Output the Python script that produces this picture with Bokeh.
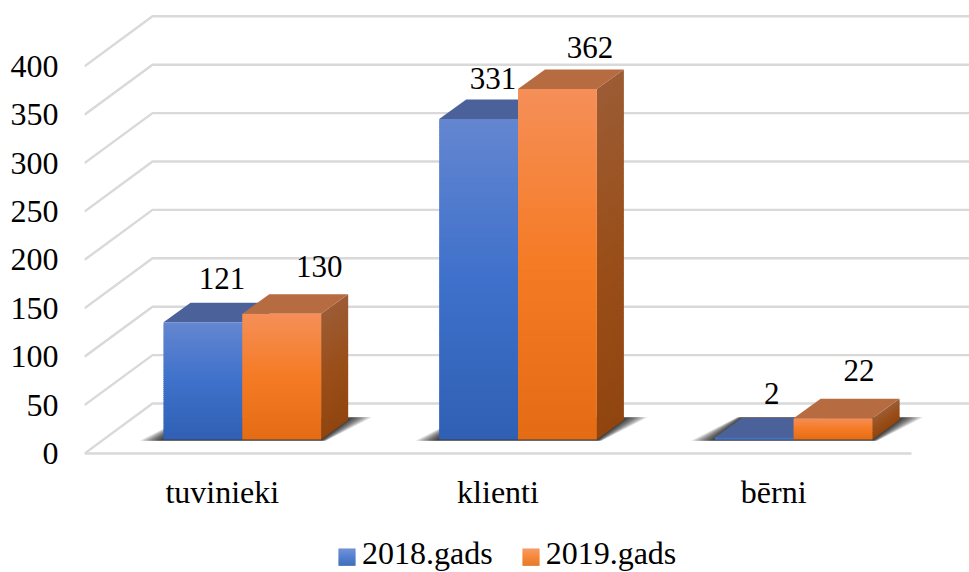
from bokeh.plotting import figure
from bokeh.models import (Range1d, FixedTicker, LinearAxis, Legend, LegendItem)
from bokeh.core.properties import value
from bokeh.embed import file_html
from bokeh.resources import INLINE

# ---- data ----
categories = ["tuvinieki", "klienti", "bērni"]
series_names = ["2018.gads", "2019.gads"]
values_2018 = [121, 331, 2]
values_2019 = [130, 362, 22]
y_ticks = [0, 50, 100, 150, 200, 250, 300, 350, 400]

# ---- styles: gradient stops (top, middle, bottom) ----
front_blue = ["#6486d0", "#3f71cb", "#2f60b4"]
front_orange = ["#f58f58", "#f57b25", "#e46c14"]
side_blue = ["#3c5a94", "#2f5290", "#254680"]
side_orange = ["#9c5c35", "#9a4f1a", "#91450f"]
top_blue = "#4a6299"
top_orange = "#b66b41"
grid_color = "#d9d9d9"
FONT = "Liberation Serif"
FONT_SIZE = "32px"

# ---- layout in pixels of the canvas ----
W, H = 969, 572
LEFT = 84            # plot frame left
STEP_PX = 275.67     # width of a category on the front plane
PX_PER_UNIT = 0.968  # pixels for one value unit
ZERO_PX = 453        # canvas y of value 0 on the front plane

sx = 1 / STEP_PX
sy = 1 / PX_PER_UNIT

GRID_DX, GRID_DY = 68 * sx, 50 * sy     # wall depth
BAR_DX, BAR_DY = 27 * sx, 19.5 * sy     # bar depth
BAR_W = 78.8 * sx
BAR_OFF_X = 20 * sx                     # bars stand inside the floor
BAR_OFF_Y = 14 * sy

p = figure(width=W, height=H, output_backend="svg", toolbar_location=None,
           x_range=Range1d(0, (W - LEFT) * sx),
           y_range=Range1d((ZERO_PX - H) * sy, ZERO_PX * sy),
           min_border_left=LEFT, min_border_right=0, min_border_top=0,
           min_border_bottom=0, frame_height=H, frame_width=W - LEFT,
           outline_line_color=None, background_fill_color="white",
           x_axis_type=None, y_axis_type=None)
p.grid.visible = False


def mix(stops, t):
    """Colour at t (0 top, 1 bottom) of a three-stop gradient."""
    if t < 0.5:
        a, b, u = stops[0], stops[1], t * 2
    else:
        a, b, u = stops[1], stops[2], (t - 0.5) * 2
    ca = [int(a[i:i + 2], 16) for i in (1, 3, 5)]
    cb = [int(b[i:i + 2], 16) for i in (1, 3, 5)]
    return "#%02x%02x%02x" % tuple(round(x + (y - x) * u) for x, y in zip(ca, cb))


# ---- walls ----
right_edge = (W - LEFT) * sx
for t in y_ticks:
    p.line([0, GRID_DX, right_edge], [t, t + GRID_DY, t + GRID_DY],
           line_color=grid_color, line_width=2.4)
p.line([0, len(categories)], [0, 0], line_color=grid_color, line_width=2.4)

# ---- floor shadows: nested translucent shapes give a soft edge ----
SHADOW_LAYERS = 17
for i in range(len(categories)):
    x0 = i + 0.5 + BAR_OFF_X - BAR_W
    x1 = i + 0.5 + BAR_OFF_X + BAR_W
    for k in range(SHADOW_LAYERS):
        e = 1.5 * (SHADOW_LAYERS - 1 - k)
        ex = e * sx
        ey = min(e, 6) * 0.45 * sy
        base = BAR_OFF_Y
        p.patch([x0 - ex, x1 + ex * 0.2, x1 + BAR_DX + ex, x0 + BAR_DX - ex * 0.2],
                [base - ey * 0.5, base - ey * 0.5, base + BAR_DY + ey, base + BAR_DY + ey],
                fill_color="black", fill_alpha=0.08, line_color=None)


def draw_bar(x0, val, front, side, top):
    x1 = x0 + BAR_W
    y0 = BAR_OFF_Y
    y1 = BAR_OFF_Y + val
    n = max(2, int(val * PX_PER_UNIT / 2))
    dy = (y1 - y0) / n
    over = 1 * sy
    rows = [(y1 - j * dy, max(y0, y1 - (j + 1) * dy - over), (j + 0.5) / n) for j in range(n)]
    # side face
    p.patches([[x1, x1 + BAR_DX, x1 + BAR_DX, x1] for _ in rows],
              [[a, a + BAR_DY, b + BAR_DY, b] for a, b, _ in rows],
              fill_color=[mix(side, t) for *_, t in rows], line_color=None)
    # top face
    p.patch([x0, x1, x1 + BAR_DX, x0 + BAR_DX], [y1, y1, y1 + BAR_DY, y1 + BAR_DY],
            fill_color=top, line_color=None)
    # front face
    p.quad(left=x0, right=x1, top=[a for a, *_ in rows], bottom=[b for _, b, _ in rows],
           fill_color=[mix(front, t) for *_, t in rows], line_color=None)


for i in range(len(categories)):
    draw_bar(i + 0.5 + BAR_OFF_X - BAR_W, values_2018[i], front_blue, side_blue, top_blue)
    draw_bar(i + 0.5 + BAR_OFF_X, values_2019[i], front_orange, side_orange, top_orange)

# ---- data labels (offset from bar centre in pixels, as read) ----
label_dx_2018 = [19, 14.5, 17.5]
label_dy_2018 = [44, 41, 44]
label_dx_2019 = [37.5, 32.5, 26]
label_dy_2019 = [47, 42, 48]
lx, ly, lt = [], [], []
for i in range(len(categories)):
    lx.append(i + 0.5 + BAR_OFF_X - BAR_W / 2 + label_dx_2018[i] * sx)
    ly.append(BAR_OFF_Y + values_2018[i] + label_dy_2018[i] * sy)
    lt.append(str(values_2018[i]))
    lx.append(i + 0.5 + BAR_OFF_X + BAR_W / 2 + label_dx_2019[i] * sx)
    ly.append(BAR_OFF_Y + values_2019[i] + label_dy_2019[i] * sy)
    lt.append(str(values_2019[i]))
p.text(lx, ly, text=lt, text_font=value(FONT), text_font_size=value("31px"),
       text_color="#000000", text_align="center", text_baseline="middle")

# ---- axes ----
yaxis = LinearAxis(ticker=FixedTicker(ticks=y_ticks), axis_line_color=None,
                   major_tick_line_color=None, minor_tick_line_color=None,
                   major_label_standoff=20, major_label_text_font=FONT,
                   major_label_text_font_size=FONT_SIZE, major_label_text_color="#000000")
p.add_layout(yaxis, "left")

xaxis = LinearAxis(ticker=FixedTicker(ticks=[i + 0.5 for i in range(len(categories))]),
                   major_label_overrides={i + 0.5: c for i, c in enumerate(categories)},
                   fixed_location=-1 * sy,
                   axis_line_color=None, major_tick_line_color=None, minor_tick_line_color=None,
                   major_label_standoff=13, major_label_text_font=FONT,
                   major_label_text_font_size=FONT_SIZE, major_label_text_color="#000000")
p.add_layout(xaxis, "below")

# ---- legend ----
r_blue = p.quad(left=[], right=[], top=[], bottom=[], fill_alpha=0, line_color=None)
r_orange = p.quad(left=[], right=[], top=[], bottom=[], fill_alpha=0, line_color=None)
legend = Legend(items=[LegendItem(label=series_names[0], renderers=[r_blue]),
                       LegendItem(label=series_names[1], renderers=[r_orange])],
                orientation="horizontal", location=(254, 0), padding=0, margin=0, spacing=29,
                glyph_width=17, glyph_height=17, label_standoff=7,
                background_fill_alpha=0, border_line_alpha=0,
                label_text_font=FONT, label_text_font_size=FONT_SIZE, label_text_color="#000000")
p.add_layout(legend)

# gradient swatches under the legend's transparent glyphs
SW_H = 17
for left, stops in ((254, front_blue), (438, front_orange)):
    for j in range(SW_H):
        yt = (ZERO_PX - (548 + j)) * sy
        p.quad(left=left * sx, right=(left + 17) * sx, top=yt, bottom=yt - 1.3 * sy,
               fill_color=mix(stops, j / (SW_H - 1)), line_color=None)

open("out.html", "w").write(file_html(p, INLINE))
